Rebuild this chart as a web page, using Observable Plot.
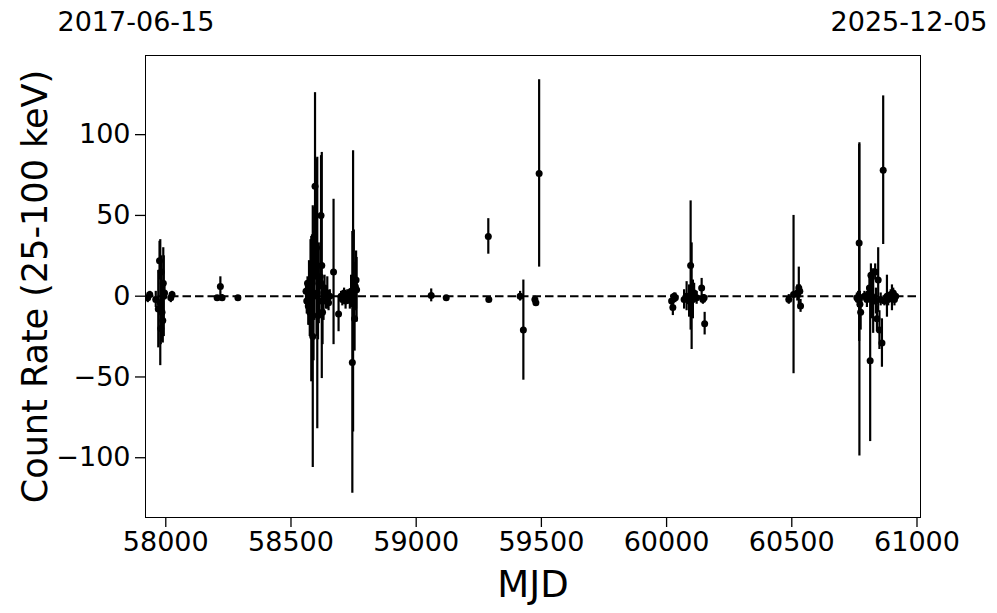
<!DOCTYPE html>
<html>
<head>
<meta charset="utf-8">
<script src="https://cdn.jsdelivr.net/npm/d3@7"></script>
<script src="https://cdn.jsdelivr.net/npm/@observablehq/plot@0.6"></script>
<style>
  html, body { margin: 0; padding: 0; background: #fff; }
  #chart { width: 997px; height: 613px; }
</style>
</head>
<body>
<div id="chart"></div>
<script>
const startDate = "2017-06-15";
const endDate = "2025-12-05";
const xLabel = "MJD";
const yLabel = "Count Rate (25-100 keV)";
const xTicks = [58000, 58500, 59000, 59500, 60000, 60500, 61000];
const yTicks = [-100, -50, 0, 50, 100];

const mjd = [
  57928, 57936, 57960, 57970, 57975, 57978, 57980, 57982, 57985, 57988, 57990, 57992, 57995, 58020, 58025,
  58205, 58218, 58225, 58288,
  58560, 58563, 58566, 58569, 58572, 58575, 58578, 58581, 58584, 58587, 58590, 58593, 58596, 58602, 58605,
  58608, 58611, 58614, 58617, 58620, 58623, 58626, 58630, 58634, 58640, 58645, 58650, 58655, 58670, 58690,
  58700, 58705, 58712, 58718, 58725, 58730, 58735, 58740, 58745, 58748, 58751, 58754, 58757, 58760, 58762,
  59060, 59120, 59288, 59290, 59415, 59428, 59474, 59478, 59491,
  60020, 60025, 60030, 60035, 60070, 60080, 60090, 60096, 60100, 60105, 60110, 60120, 60140, 60145, 60150, 60152,
  60488, 60507, 60522, 60528, 60532, 60535,
  60760, 60765, 60769, 60770, 60772, 60775, 60790, 60800, 60805, 60810, 60813, 60816, 60820, 60825, 60833,
  60836, 60840, 60845, 60850, 60855, 60860, 60865, 60870, 60880, 60885, 60895, 60900, 60905, 60910, 60915
];
const rate = [
  -1, 1, -2, -8, 22, -4, -20, 15, -10, -15, 8, 0, 2, -1, 1,
  -1, 6, -1, -1,
  3, -3, 8, -6, 2, -10, 5, -8, 10, -25, 0, 20, 68, 30, 2,
  -12, 8, -3, 12, 50, 19, -10, -3, 5, -2, 2, -4, 0, 15, -11,
  0, -2, 2, -3, 1, -1, -2, 3, -41, 3, 8, -14, 6, 10, 4,
  0.5, -1, 37, -2, 0, -21, -2, -4, 76,
  -3, -7, 0, -1, -2, 0, -3, 19, 0, -2, 2, -1, 5, -2, -1, -17,
  -2, 1, 2, 5, 3, -6,
  -1, -2, 33, -2, -5, -10, 0, -2, 1, 5, -40, 13, 0, -3, 15,
  -3, -14, 10, -21, -2, -29, 78, -3, 0, -2, 1, -1, 2, -2, 0
];
const err = [
  3, 2, 5, 24, 12, 39, 10, 10, 18, 14, 22, 25, 4, 3, 2,
  1, 6, 2, 1,
  5, 8, 4, 12, 20, 15, 30, 45, 28, 81, 40, 35, 58, 55, 84,
  15, 25, 10, 8, 37, 70, 20, 12, 8, 6, 10, 5, 4, 45, 11,
  3, 4, 3, 5, 3, 4, 6, 10, 81, 87, 33, 20, 15, 18, 20,
  4, 1, 11, 1, 3, 31, 2, 2, 58,
  4, 5, 2, 3, 6, 9, 10, 40, 33, 12, 6, 4, 6, 3, 2, 7,
  3, 49, 5, 13, 4, 4,
  3, 5, 61, 97, 8, 11, 3, 5, 4, 8, 50, 7, 14, 20, 5,
  8, 8, 20, 12, 4, 15, 46, 3, 13, 4, 3, 8, 3, 4, 2
];

const data = mjd.map((m, i) => ({mjd: m, rate: rate[i], err: err[i]}));
const fmt = d => (d < 0 ? "\u2212" + Math.abs(d) : String(d));

const chart = Plot.plot({
  width: 997,
  height: 613,
  marginLeft: 145,
  marginRight: 77,
  marginTop: 55,
  marginBottom: 96,
  style: {fontFamily: "DejaVu Sans", fontSize: "27px", color: "#000", background: "#fff"},
  x: {domain: [57919, 61014]},
  y: {domain: [-137, 149]},
  marks: [
    Plot.ruleY([0], {stroke: "#000", strokeWidth: 2, strokeDasharray: "8.5,4"}),
    Plot.ruleX(data, {x: "mjd", y1: d => d.rate - d.err, y2: d => d.rate + d.err, stroke: "#000", strokeWidth: 2.2, clip: true}),
    Plot.dot(data, {x: "mjd", y: "rate", r: 3.5, fill: "#000", stroke: "none", clip: true}),
    Plot.frame({stroke: "#000", strokeWidth: 1}),
    Plot.axisX({ticks: xTicks, tickFormat: fmt, tickSize: 10, tickPadding: 4, fontSize: 27, label: null, strokeWidth: 1.3}),
    Plot.axisY({ticks: yTicks, tickFormat: fmt, tickSize: 10, tickPadding: 5, fontSize: 27, label: null, strokeWidth: 1.3}),
    Plot.text([xLabel], {frameAnchor: "bottom", dy: 68, lineAnchor: "middle", textAnchor: "middle", text: d => d, fontSize: 37, fill: "#000"}),
    Plot.text([yLabel], {frameAnchor: "left", dx: -110, rotate: -90, lineAnchor: "middle", textAnchor: "middle", text: d => d, fontSize: 35, fill: "#000"}),
    Plot.text([startDate], {frameAnchor: "top-left", dx: -88, dy: -33, lineAnchor: "middle", textAnchor: "start", text: d => d, fontSize: 27, fill: "#000"}),
    Plot.text([endDate], {frameAnchor: "top-right", dx: 67, dy: -33, lineAnchor: "middle", textAnchor: "end", text: d => d, fontSize: 27, fill: "#000"})
  ]
});
document.getElementById("chart").appendChild(chart);
</script>
</body>
</html>
